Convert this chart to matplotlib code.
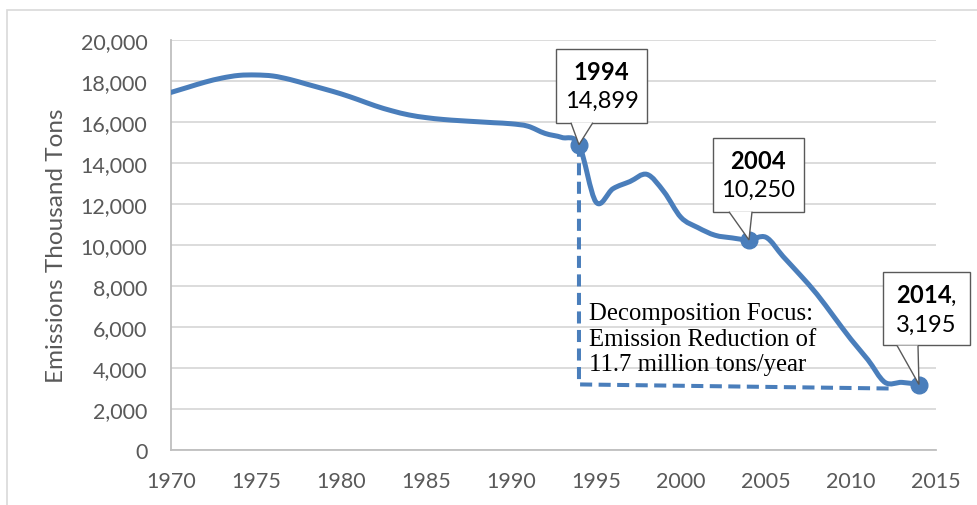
import matplotlib
matplotlib.use("Agg")
import numpy as np
import matplotlib.pyplot as plt
import matplotlib.patches as mpatches
import matplotlib.transforms as mtransforms
from matplotlib.path import Path
from matplotlib.ticker import FuncFormatter, MultipleLocator

plt.rcParams["font.family"] = ["Lato", "DejaVu Sans"]
plt.rcParams["mathtext.fontset"] = "custom"
plt.rcParams["mathtext.bf"] = "Lato:bold"
plt.rcParams["mathtext.rm"] = "Lato"

# emissions, thousand tons per year
years = list(range(1970, 2015))
emissions = [
    17450, 17700, 17950, 18150, 18280, 18300, 18250, 18080, 17850, 17620,
    17380, 17100, 16800, 16550, 16350, 16220, 16130, 16070, 16020, 15970,
    15920, 15800, 15450, 15250, 14899, 12100, 12750, 13100, 13450, 12600,
    11350, 10850, 10480, 10350, 10250, 10380, 9450, 8550, 7600, 6500,
    5400, 4400, 3300, 3300, 3195,
]

highlight_years = [1994, 2004, 2014]
highlight_values = [14899, 10250, 3195]
callout_labels = [r"$\mathbf{1994}$" + "\n14,899",
                  r"$\mathbf{2004}$" + "\n10,250",
                  r"$\mathbf{2014}$," + "\n3,195"]

# callout geometry, points relative to the marked point:
# box centre, box size, pointer base (left, right) on the box bottom
callout_centres = [(16.2, 42.5), (6.8, 47.0), (5.4, 54.4)]
callout_sizes = [(65.5, 53.3), (65.5, 53.3), (62.6, 52.6)]
pointer_bases = [(-5.8, 10.0), (-14.4, 2.2), (-15.8, -0.7)]

# dashed "decomposition" bracket
bracket_x = [1994, 1994, 2012.3]
bracket_y = [14899, 3200, 3000]

blue = "#4a7ebb"
grey_text = "#595959"
grey_edge = "#595959"


def smooth_path(xs, ys):
    # Catmull-Rom style cubic Bezier through the points (Excel "smoothed line")
    p = np.column_stack([xs, ys]).astype(float)
    ext = np.vstack([p[0], p, p[-1]])
    verts = [p[0]]
    codes = [Path.MOVETO]
    for i in range(len(p) - 1):
        p0, p1, p2, p3 = ext[i], ext[i + 1], ext[i + 2], ext[i + 3]
        c1 = p1 + (p2 - p0) / 6.0
        c2 = p2 - (p3 - p1) / 6.0
        verts += [c1, c2, p2]
        codes += [Path.CURVE4] * 3
    return Path(verts, codes)


fig = plt.figure(figsize=(9.77, 5.06), dpi=100)
ax = fig.add_axes([0.175, 0.1087, 0.783, 0.810])

ax.plot(bracket_x, bracket_y, color=blue, lw=2.9, ls=(0, (3, 1.6)),
        solid_joinstyle="miter", zorder=2)
ax.add_patch(mpatches.PathPatch(smooth_path(years, emissions), fill=False,
                                ec=blue, lw=3.6, capstyle="round",
                                joinstyle="round", zorder=3))
ax.plot(highlight_years, highlight_values, "o", color=blue, ms=12, zorder=4)

pt = mtransforms.Affine2D().scale(1 / 72.0) + fig.dpi_scale_trans
for x, y, label, (cx, cy), (w, h), (bl, br) in zip(
        highlight_years, highlight_values, callout_labels, callout_centres,
        callout_sizes, pointer_bases):
    trans = pt + mtransforms.ScaledTranslation(x, y, ax.transData)
    box = mpatches.Rectangle((cx - w / 2, cy - h / 2), w, h, transform=trans,
                             fc="white", ec=grey_edge, lw=1, zorder=5,
                             clip_on=False)
    ax.add_patch(box)
    base_y = cy - h / 2
    pointer = mpatches.Polygon([(bl, base_y), (0, 0), (br, base_y)],
                               closed=False, transform=trans, fc="white",
                               ec=grey_edge, lw=1, zorder=6, clip_on=False,
                               joinstyle="miter")
    ax.add_patch(pointer)
    ax.text(cx, cy, label, transform=trans, ha="center", va="center",
            fontsize=17, linespacing=1.4, color="black", zorder=7)

ax.text(1994.6, 7200,
        "Decomposition Focus:\nEmission Reduction of\n11.7 million tons/year",
        family=["Liberation Serif", "DejaVu Serif"], fontsize=17.8, va="top",
        ha="left", linespacing=1.2, color="black", zorder=6)

ax.set_xlim(1970, 2015)
ax.set_ylim(0, 20000)
ax.xaxis.set_major_locator(MultipleLocator(5))
ax.yaxis.set_major_locator(MultipleLocator(2000))
ax.yaxis.set_major_formatter(FuncFormatter(lambda v, p: f"{int(v):,}"))
ax.tick_params(length=0, labelsize=15.5, labelcolor=grey_text)
ax.tick_params(axis="y", pad=17)
ax.tick_params(axis="x", pad=15)
ax.grid(axis="y", color="#d9d9d9", lw=1.3)
ax.set_axisbelow(True)
for side in ["top", "right"]:
    ax.spines[side].set_visible(False)
for side in ["left", "bottom"]:
    ax.spines[side].set_color("#bfbfbf")
    ax.spines[side].set_linewidth(1.3)
ax.set_ylabel("Emissions Thousand Tons", fontsize=17.5, color=grey_text,
              labelpad=10)

# light frame around the whole chart
frame = mpatches.Rectangle((7 / 977, -0.05), 1.1, 1 - 11 / 506 + 0.05,
                           transform=fig.transFigure, fill=False,
                           ec="#d9d9d9", lw=1.2, clip_on=False)
fig.patches.append(frame)

fig.savefig("out.png", dpi=100)
